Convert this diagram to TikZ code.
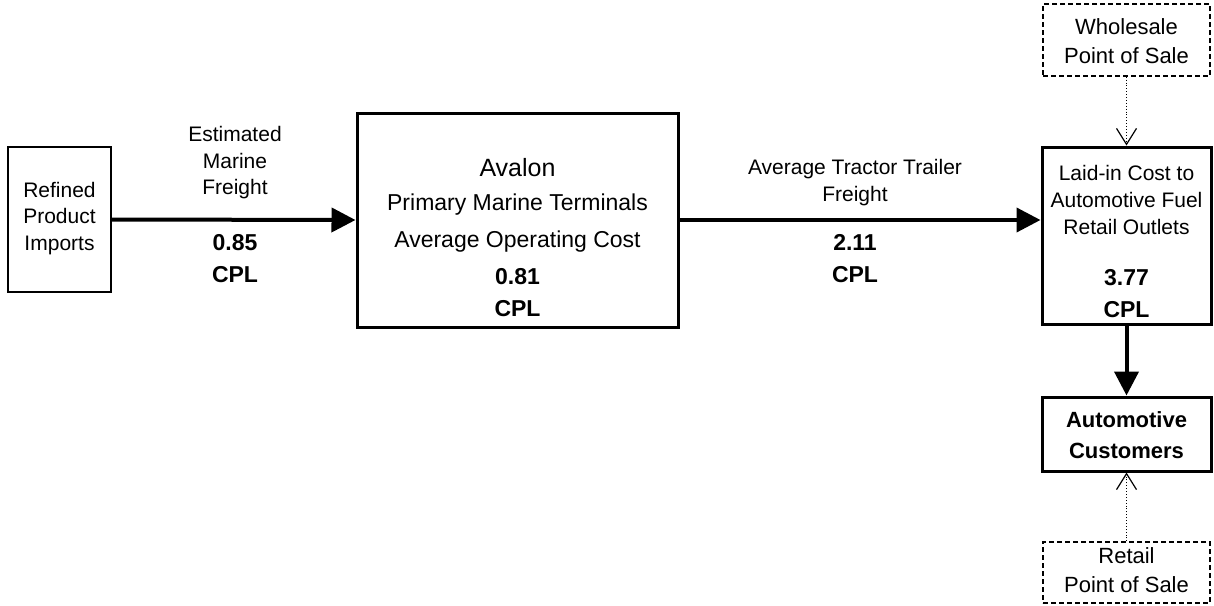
\documentclass[tikz,border=0pt]{standalone}
\usepackage{fontspec}
\setmainfont{Liberation Sans}
\usetikzlibrary{arrows.meta}
\begin{document}
\begin{tikzpicture}[x=1pt,y=-1pt,
  box/.style={draw,line width=3pt,inner sep=0pt},
  thinbox/.style={draw,line width=1.5pt,inner sep=0pt},
  dbox/.style={draw,line width=1.5pt,dash pattern=on 5pt off 3pt,inner sep=0pt},
  txt/.style={inner sep=0pt,align=center,font=\fontsize{21}{26.5}\selectfont},
  btxt/.style={inner sep=0pt,align=center,font=\fontsize{23}{32}\selectfont\bfseries},
  flow/.style={line width=4pt,-{Triangle[length=24pt,width=24pt]}},
  weak/.style={line width=0.9pt,dotted,-{Straight Barb[length=16pt,width=20pt,line width=1.2pt]}}]
\useasboundingbox (0,0) rectangle (1214,605);
% boxes
\node[thinbox,minimum width=103pt,minimum height=145pt] (imp) at (59.5,219.5) {};
\node[box,minimum width=321pt,minimum height=214pt] (ava) at (517.5,220) {};
\node[box,minimum width=169pt,minimum height=177pt] (lic) at (1126.5,235.5) {};
\node[box,minimum width=169pt,minimum height=74pt] (cus) at (1126.5,434) {};
\node[dbox,minimum width=167pt,minimum height=72pt] (whs) at (1126.5,40) {};
\node[dbox,minimum width=167pt,minimum height=61pt] (ret) at (1126.5,572.5) {};
% texts
\node[txt] (impt) at (59.5,218.5) {Refined\\Product\\Imports};
\node[txt] (mfl) at (235,163) {Estimated\\Marine\\Freight};
\node[btxt] (mfv) at (235,259) {0.85\\CPL};
\node[txt,font=\fontsize{25}{30}\selectfont] (avn) at (517.5,168) {Avalon};
\node[txt,font=\fontsize{23}{30}\selectfont] (avp) at (517.5,205) {Primary Marine Terminals};
\node[txt,font=\fontsize{23}{30}\selectfont] (avc) at (517.5,242) {Average Operating Cost};
\node[btxt] (avv) at (517.5,292.5) {0.81\\CPL};
\node[txt] (ttl) at (855,182.5) {Average Tractor Trailer\\Freight};
\node[btxt] (ttv) at (855,258.5) {2.11\\CPL};
\node[txt,font=\fontsize{21}{27}\selectfont] (lict) at (1126.5,200) {Laid-in Cost to\\Automotive Fuel\\Retail Outlets};
\node[btxt] (licv) at (1126.5,294) {3.77\\CPL};
\node[btxt,font=\fontsize{22}{31}\selectfont\bfseries] (cust) at (1126.5,435.5) {Automotive\\Customers};
\node[txt,font=\fontsize{22}{29}\selectfont] (whst) at (1126.5,41.5) {Wholesale\\Point of Sale};
\node[txt,font=\fontsize{22}{29}\selectfont] (rett) at (1126.5,570.5) {Retail\\Point of Sale};
% connectors
\draw[flow] (imp.east) -- (ava.west);
\draw[flow] (ava.east) -- (ava.east -| lic.west);
\draw[flow] (lic.south) -- (cus.north);
\draw[weak] (whs.south) -- (lic.north);
\draw[weak] (ret.north) -- (cus.south);
\end{tikzpicture}
\end{document}
